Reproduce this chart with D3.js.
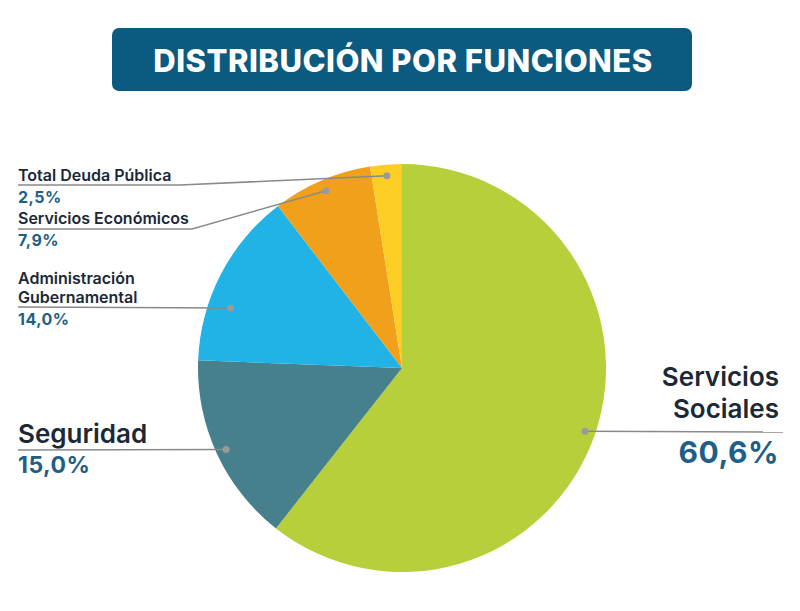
<!DOCTYPE html>
<html>
<head>
<meta charset="utf-8">
<script src="https://cdn.jsdelivr.net/npm/d3@7"></script>
<style>
  body { margin: 0; background: #fff; }
  text { font-family: Inter, "Liberation Sans", sans-serif; font-weight: 700; }
</style>
</head>
<body>
<div id="chart"></div>
<script>
// data, clockwise from 12 o'clock
const categories = ["Servicios Sociales", "Seguridad", "Administración Gubernamental", "Servicios Económicos", "Total Deuda Pública"];
const values = [60.6, 15.0, 14.0, 7.9, 2.5];
const valueLabels = ["60,6%", "15,0%", "14,0%", "7,9%", "2,5%"];
const colors = ["#b8cf3c", "#46808c", "#21b2e6", "#f0a01a", "#fbcd25"];

const width = 800, height = 611;
const cx = 402, cy = 368, R = 204;

const svg = d3.select("#chart").append("svg")
    .attr("width", width)
    .attr("height", height);

// title box
svg.append("rect")
    .attr("x", 112).attr("y", 28)
    .attr("width", 580).attr("height", 63)
    .attr("rx", 7)
    .attr("fill", "#0b5a80");
svg.append("text")
    .attr("x", 403).attr("y", 72)
    .attr("text-anchor", "middle")
    .attr("fill", "#fff")
    .style("font-size", "31px")
    .style("font-weight", 800)
    .style("letter-spacing", "0.5px")
    .text("DISTRIBUCIÓN POR FUNCIONES");

const pie = d3.pie().sort(null).value(d => d)(values);
const arc = d3.arc().innerRadius(0).outerRadius(R);

const g = svg.append("g").attr("transform", `translate(${cx},${cy})`);
g.selectAll("path")
    .data(pie)
    .join("path")
    .attr("d", arc)
    .attr("fill", (d, i) => colors[i]);

// label layout: line y, text lines, sizes
const layout = [
  { side: "right", lineY: 432, lines: ["Servicios", "Sociales"], nameY: [386, 418], valY: 463, nameSize: 26, valSize: 30, t: 0.5, rf: 0.95 },
  { side: "left", lineY: 450, lines: ["Seguridad"], nameY: [443], valY: 473, nameSize: 26, valSize: 23, t: 0.5, rf: 0.95 },
  { side: "left", lineY: 307, lines: ["Administración", "Gubernamental"], nameY: [284, 303], valY: 325, nameSize: 16, valSize: 16, t: 0.34, rf: 0.89 },
  { side: "left", lineY: 229, lines: ["Servicios Económicos"], nameY: [224], valY: 246, nameSize: 16, valSize: 16, t: 0.5, rf: 0.945, bend: 192 },
  { side: "left", lineY: 185, lines: ["Total Deuda Pública"], nameY: [181], valY: 203, nameSize: 16, valSize: 16, t: 0.5, rf: 0.945, bend: 180 }
];

const labels = svg.append("g");
pie.forEach((d, i) => {
  const L = layout[i];
  const a = d.startAngle + (d.endAngle - d.startAngle) * L.t;
  const r = R * L.rf;
  const px = cx + Math.sin(a) * r;
  const py = cy - Math.cos(a) * r;
  let pts;
  if (L.side === "right") {
    pts = [[px, py], [783, L.lineY]];
  } else if (L.bend) {
    pts = [[18, L.lineY], [L.bend, L.lineY], [px, py]];
  } else {
    pts = [[18, L.lineY], [px, py]];
  }
  labels.append("path")
      .attr("d", d3.line()(pts))
      .attr("fill", "none")
      .attr("stroke", "#8a8a8a")
      .attr("stroke-width", 1.5);
  labels.append("circle")
      .attr("cx", px).attr("cy", py).attr("r", 3.5)
      .attr("fill", "#9a9a9a");

  const tx = L.side === "right" ? 779 : 18;
  const anchor = L.side === "right" ? "end" : "start";
  L.lines.forEach((s, j) => {
    labels.append("text")
        .attr("x", tx).attr("y", L.nameY[j])
        .attr("text-anchor", anchor)
        .attr("fill", "#1b2838")
        .style("font-size", L.nameSize + "px")
        .style("font-weight", 600)
        .text(s);
  });
  labels.append("text")
      .attr("x", tx).attr("y", L.valY)
      .attr("text-anchor", anchor)
      .attr("fill", "#1f5e86")
      .style("font-size", L.valSize + "px")
      .style("letter-spacing", "0.5px")
      .text(valueLabels[i]);
});
</script>
</body>
</html>
